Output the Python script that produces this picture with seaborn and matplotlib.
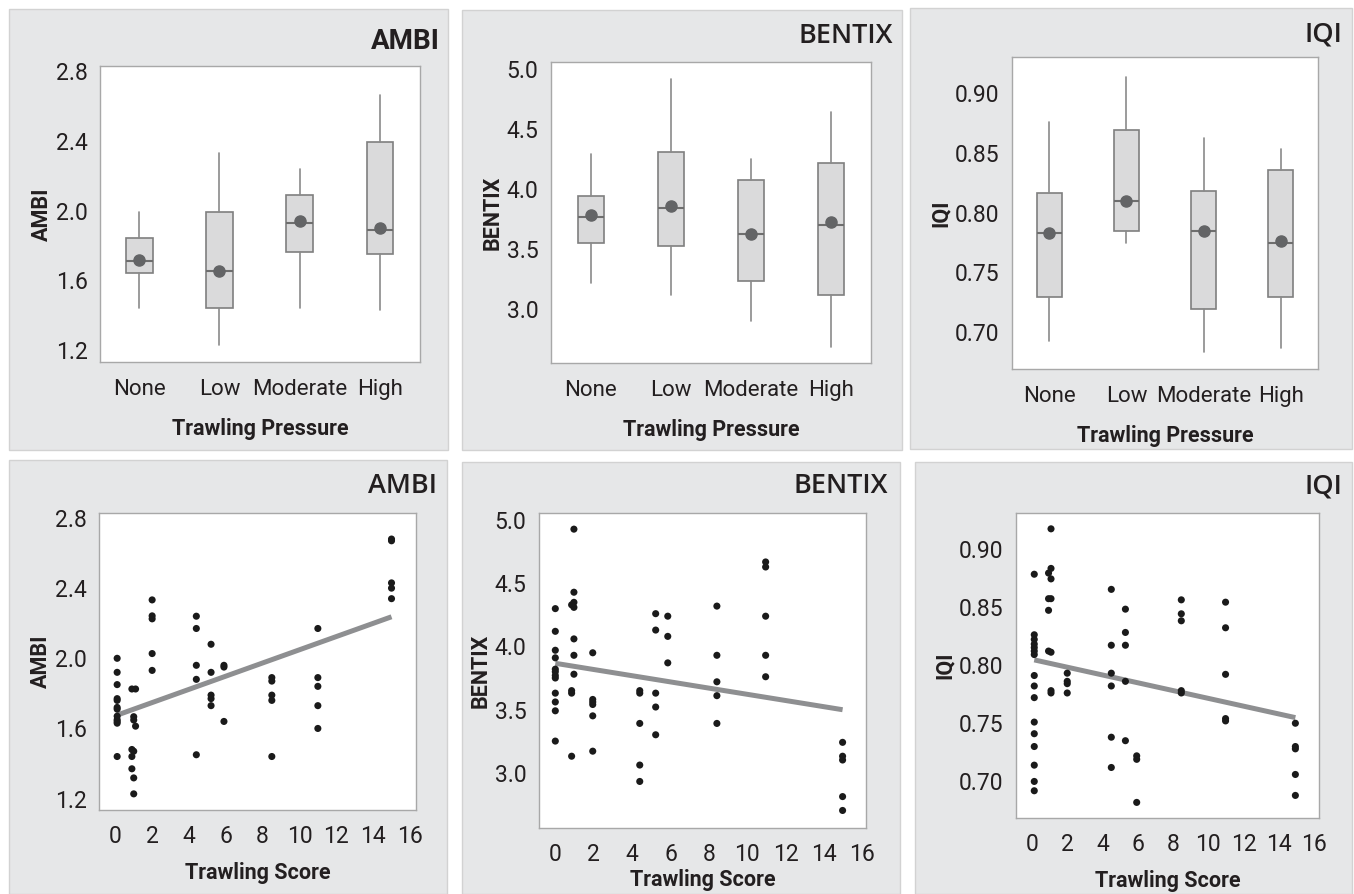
import matplotlib
matplotlib.use("Agg")
import matplotlib.pyplot as plt
from matplotlib import font_manager
from matplotlib.patches import Rectangle
import seaborn as sns
import pandas as pd
import numpy as np

# ---------------- data ----------------
categories = ["None", "Low", "Moderate", "High"]

# box summaries (whisker low, Q1, median, Q3, whisker high, mean)
ambi_whislo = [1.44, 1.23, 1.44, 1.43]
ambi_q1 = [1.644, 1.442, 1.766, 1.750]
ambi_med = [1.712, 1.657, 1.928, 1.888]
ambi_q3 = [1.846, 1.994, 2.088, 2.396]
ambi_whishi = [1.994, 2.328, 2.236, 2.665]
ambi_mean = [1.715, 1.657, 1.941, 1.899]

bentix_whislo = [3.214, 3.117, 2.897, 2.681]
bentix_q1 = [3.547, 3.525, 3.231, 3.117]
bentix_med = [3.764, 3.842, 3.625, 3.700]
bentix_q3 = [3.939, 4.311, 4.075, 4.214]
bentix_whishi = [4.292, 4.919, 4.250, 4.642]
bentix_mean = [3.783, 3.861, 3.625, 3.725]

iqi_whislo = [0.692, 0.7747, 0.6825, 0.6864]
iqi_q1 = [0.7294, 0.7844, 0.7194, 0.7294]
iqi_med = [0.7825, 0.8097, 0.7844, 0.7744]
iqi_q3 = [0.816, 0.8689, 0.8178, 0.8353]
iqi_whishi = [0.876, 0.9136, 0.8628, 0.8531]
iqi_mean = [0.7825, 0.8097, 0.7844, 0.7764]

# scatter data (trawling score, index value)
ambi_x = [0.1]*12 + [0.9]*4 + [1.0]*5 + [1.1]*2 + [2.0]*5 + [4.4]*5 + [5.2]*5 + [5.9]*3 + [8.5]*5 + [11.0]*5 + [15.0]*5
ambi_y = [2.00, 1.92, 1.85, 1.77, 1.76, 1.72, 1.71, 1.67, 1.65, 1.64, 1.63, 1.44,
          1.825, 1.48, 1.44, 1.37,
          1.667, 1.648, 1.47, 1.318, 1.227,
          1.825, 1.613,
          2.333, 2.242, 2.225, 2.027, 1.931,
          2.24, 2.17, 1.96, 1.88, 1.45,
          2.08, 1.92, 1.79, 1.77, 1.73,
          1.96, 1.95, 1.64,
          1.89, 1.87, 1.79, 1.76, 1.44,
          2.17, 1.89, 1.84, 1.73, 1.60,
          2.68, 2.67, 2.43, 2.40, 2.34]

bentix_x = [0.0]*12 + [0.85]*4 + [0.97]*7 + [1.95]*6 + [4.4]*5 + [5.23]*5 + [5.86]*3 + [8.42]*5 + [10.96]*5 + [14.97]*5
bentix_y = [4.30, 4.12, 3.97, 3.91, 3.82, 3.80, 3.77, 3.75, 3.63, 3.56, 3.49, 3.25,
            4.33, 3.65, 3.63, 3.13,
            4.93, 4.43, 4.35, 4.31, 4.06, 3.93, 3.78,
            3.95, 3.58, 3.56, 3.54, 3.45, 3.17,
            3.65, 3.63, 3.39, 3.06, 2.93,
            4.26, 4.13, 3.63, 3.52, 3.30,
            4.24, 4.08, 3.87,
            4.32, 3.93, 3.72, 3.61, 3.39,
            4.67, 4.63, 4.24, 3.93, 3.76,
            3.24, 3.13, 3.10, 2.81, 2.70]

iqi_x = [0.13]*16 + [0.94]*4 + [1.08]*7 + [2.0]*4 + [4.5]*6 + [5.3]*5 + [5.94]*3 + [8.47]*5 + [10.98]*5 + [14.94]*5
iqi_y = [0.878, 0.826, 0.822, 0.818, 0.815, 0.812, 0.809, 0.791, 0.782, 0.772, 0.751, 0.741, 0.730, 0.714, 0.700, 0.692,
         0.879, 0.857, 0.847, 0.812,
         0.917, 0.883, 0.874, 0.857, 0.811, 0.778, 0.776,
         0.793, 0.786, 0.784, 0.776,
         0.865, 0.817, 0.793, 0.782, 0.738, 0.712,
         0.848, 0.828, 0.817, 0.786, 0.735,
         0.722, 0.719, 0.682,
         0.856, 0.844, 0.838, 0.778, 0.776,
         0.854, 0.832, 0.792, 0.754, 0.752,
         0.750, 0.730, 0.728, 0.706, 0.688]

ambi_ticks = [1.2, 1.6, 2.0, 2.4, 2.8]
bentix_ticks = [3.0, 3.5, 4.0, 4.5, 5.0]
iqi_ticks = [0.70, 0.75, 0.80, 0.85, 0.90]
score_ticks = [0, 2, 4, 6, 8, 10, 12, 14, 16]

# ---------------- style ----------------
sns.set_style("white")
avail = {f.name for f in font_manager.fontManager.ttflist}
narrow = "Liberation Sans Narrow" if "Liberation Sans Narrow" in avail else "Roboto"
plt.rcParams["font.family"] = [narrow, "DejaVu Sans"]
title_family = ["Open Sans", "DejaVu Sans"]

W, H = 1354, 894
fig = plt.figure(figsize=(W / 100, H / 100), dpi=100)
fig.patch.set_facecolor("white")

PANEL = "#e6e7e8"
SPINE = "#a8a8a8"
TEXT = "#231f20"


def add_panel(l, t, r, b):
    rect = Rectangle((l / W, 1 - b / H), (r - l) / W, (b - t) / H,
                     transform=fig.transFigure, facecolor=PANEL,
                     edgecolor="#d2d2d2", lw=1.0, zorder=-10)
    fig.add_artist(rect)


def add_axes(l, t, r, b):
    ax = fig.add_axes([l / W, 1 - b / H, (r - l) / W, (b - t) / H])
    ax.set_zorder(1)
    ax.set_facecolor("white")
    for s in ax.spines.values():
        s.set_color(SPINE)
        s.set_linewidth(1.0)
        s.set_visible(True)
    ax.tick_params(axis="both", direction="out", length=4, width=1, color=SPINE,
                   labelsize=16.5, labelcolor=TEXT, pad=5)
    return ax


def title(x, y, s, bold_narrow=False):
    if bold_narrow:
        t = fig.text(x / W, 1 - y / H, s, ha="right", va="baseline", fontsize=20,
                     fontweight="bold", color=TEXT)
    else:
        t = fig.text(x / W, 1 - y / H, s, ha="right", va="baseline", fontsize=19.5,
                     fontweight="semibold", family=title_family, color=TEXT)
    t.set_zorder(5)


def box_panel(ax, lo, q1, med, q3, hi, mean, ticks, ylim, xlim, ylabel, fmt):
    stats = []
    for i in range(len(categories)):
        stats.append(dict(whislo=lo[i], q1=q1[i], med=med[i], q3=q3[i], whishi=hi[i],
                          mean=mean[i], fliers=[], label=categories[i]))
    ax.bxp(stats, positions=range(len(categories)), widths=0.33, patch_artist=True,
           showmeans=True, showcaps=False, showfliers=False,
           boxprops=dict(facecolor="#dadadb", edgecolor="#7f7f7f", linewidth=1.2),
           medianprops=dict(color="#6e6e6e", linewidth=1.5),
           whiskerprops=dict(color="#8a8a8a", linewidth=1.2),
           meanprops=dict(marker="o", markerfacecolor="#636466", markeredgecolor="#636466",
                          markersize=8))
    ax.set_xlim(*xlim)
    ax.set_ylim(*ylim)
    ax.set_yticks(ticks)
    ax.set_yticklabels([fmt.format(t) for t in ticks])
    ax.set_xticks(range(len(categories)))
    ax.set_xticklabels(categories, fontsize=16)
    ax.tick_params(axis="x", pad=8)
    ax.set_xlabel("Trawling Pressure", fontsize=15.5, fontweight="bold", color=TEXT, labelpad=13)
    ax.set_ylabel(ylabel, fontsize=15.5, fontweight="bold", color=TEXT, labelpad=2)


def scatter_panel(ax, x, y, ticks, ylim, xlim, ylabel, fmt, xpad=10):
    df = pd.DataFrame({"score": x, "value": y})
    sns.regplot(data=df, x="score", y="value", ax=ax, scatter=False, ci=None,
                line_kws=dict(color="#8e8f91", lw=3.6, solid_capstyle="butt"))
    sns.scatterplot(data=df, x="score", y="value", ax=ax, color="#1a1a1a", s=26,
                    edgecolor="none", zorder=3)
    ax.set_xlim(*xlim)
    ax.set_ylim(*ylim)
    ax.set_xticks(score_ticks)
    ax.set_yticks(ticks)
    ax.set_yticklabels([fmt.format(t) for t in ticks])
    ax.tick_params(axis="x", pad=7)
    ax.set_xlabel("Trawling Score", fontsize=15.5, fontweight="bold", color=TEXT, labelpad=xpad)
    ax.set_ylabel(ylabel, fontsize=15.5, fontweight="bold", color=TEXT, labelpad=2)


# panels
add_panel(9, 9, 448, 450)
add_panel(462, 10, 902, 450)
add_panel(910, 8, 1352, 449)
add_panel(9, 460, 447, 894)
add_panel(462, 462, 900, 894)
add_panel(915, 462, 1352, 894)

ax1 = add_axes(100, 66, 420, 362)
box_panel(ax1, ambi_whislo, ambi_q1, ambi_med, ambi_q3, ambi_whishi, ambi_mean,
          ambi_ticks, (1.133, 2.829), (-0.49, 3.5), "AMBI", "{:.1f}")
ax2 = add_axes(551, 62, 871, 363)
box_panel(ax2, bentix_whislo, bentix_q1, bentix_med, bentix_q3, bentix_whishi, bentix_mean,
          bentix_ticks, (2.55, 5.058), (-0.5, 3.5), "BENTIX", "{:.1f}")
ax3 = add_axes(1012, 57, 1318, 369)
box_panel(ax3, iqi_whislo, iqi_q1, iqi_med, iqi_q3, iqi_whishi, iqi_mean,
          iqi_ticks, (0.6686, 0.9306), (-0.485, 3.485), "IQI", "{:.2f}")

ax4 = add_axes(99, 513, 416, 810)
scatter_panel(ax4, ambi_x, ambi_y, ambi_ticks, (1.135, 2.8285), (-0.886, 16.33), "AMBI", "{:.1f}")
ax5 = add_axes(539, 513, 866, 828)
scatter_panel(ax5, bentix_x, bentix_y, bentix_ticks, (2.561, 5.058), (-0.85, 16.19), "BENTIX", "{:.1f}",
              xpad=2)
ax6 = add_axes(1016, 513, 1319, 818)
scatter_panel(ax6, iqi_x, iqi_y, iqi_ticks, (0.6686, 0.9306), (-0.906, 16.28), "IQI", "{:.2f}")

title(440, 49, "AMBI", bold_narrow=True)
title(893, 43, "BENTIX")
title(1342, 42, "IQI")
title(437, 493, "AMBI")
title(888, 493, "BENTIX")
title(1342, 493, "IQI")

fig.savefig("out.png", dpi=100, facecolor="white")
